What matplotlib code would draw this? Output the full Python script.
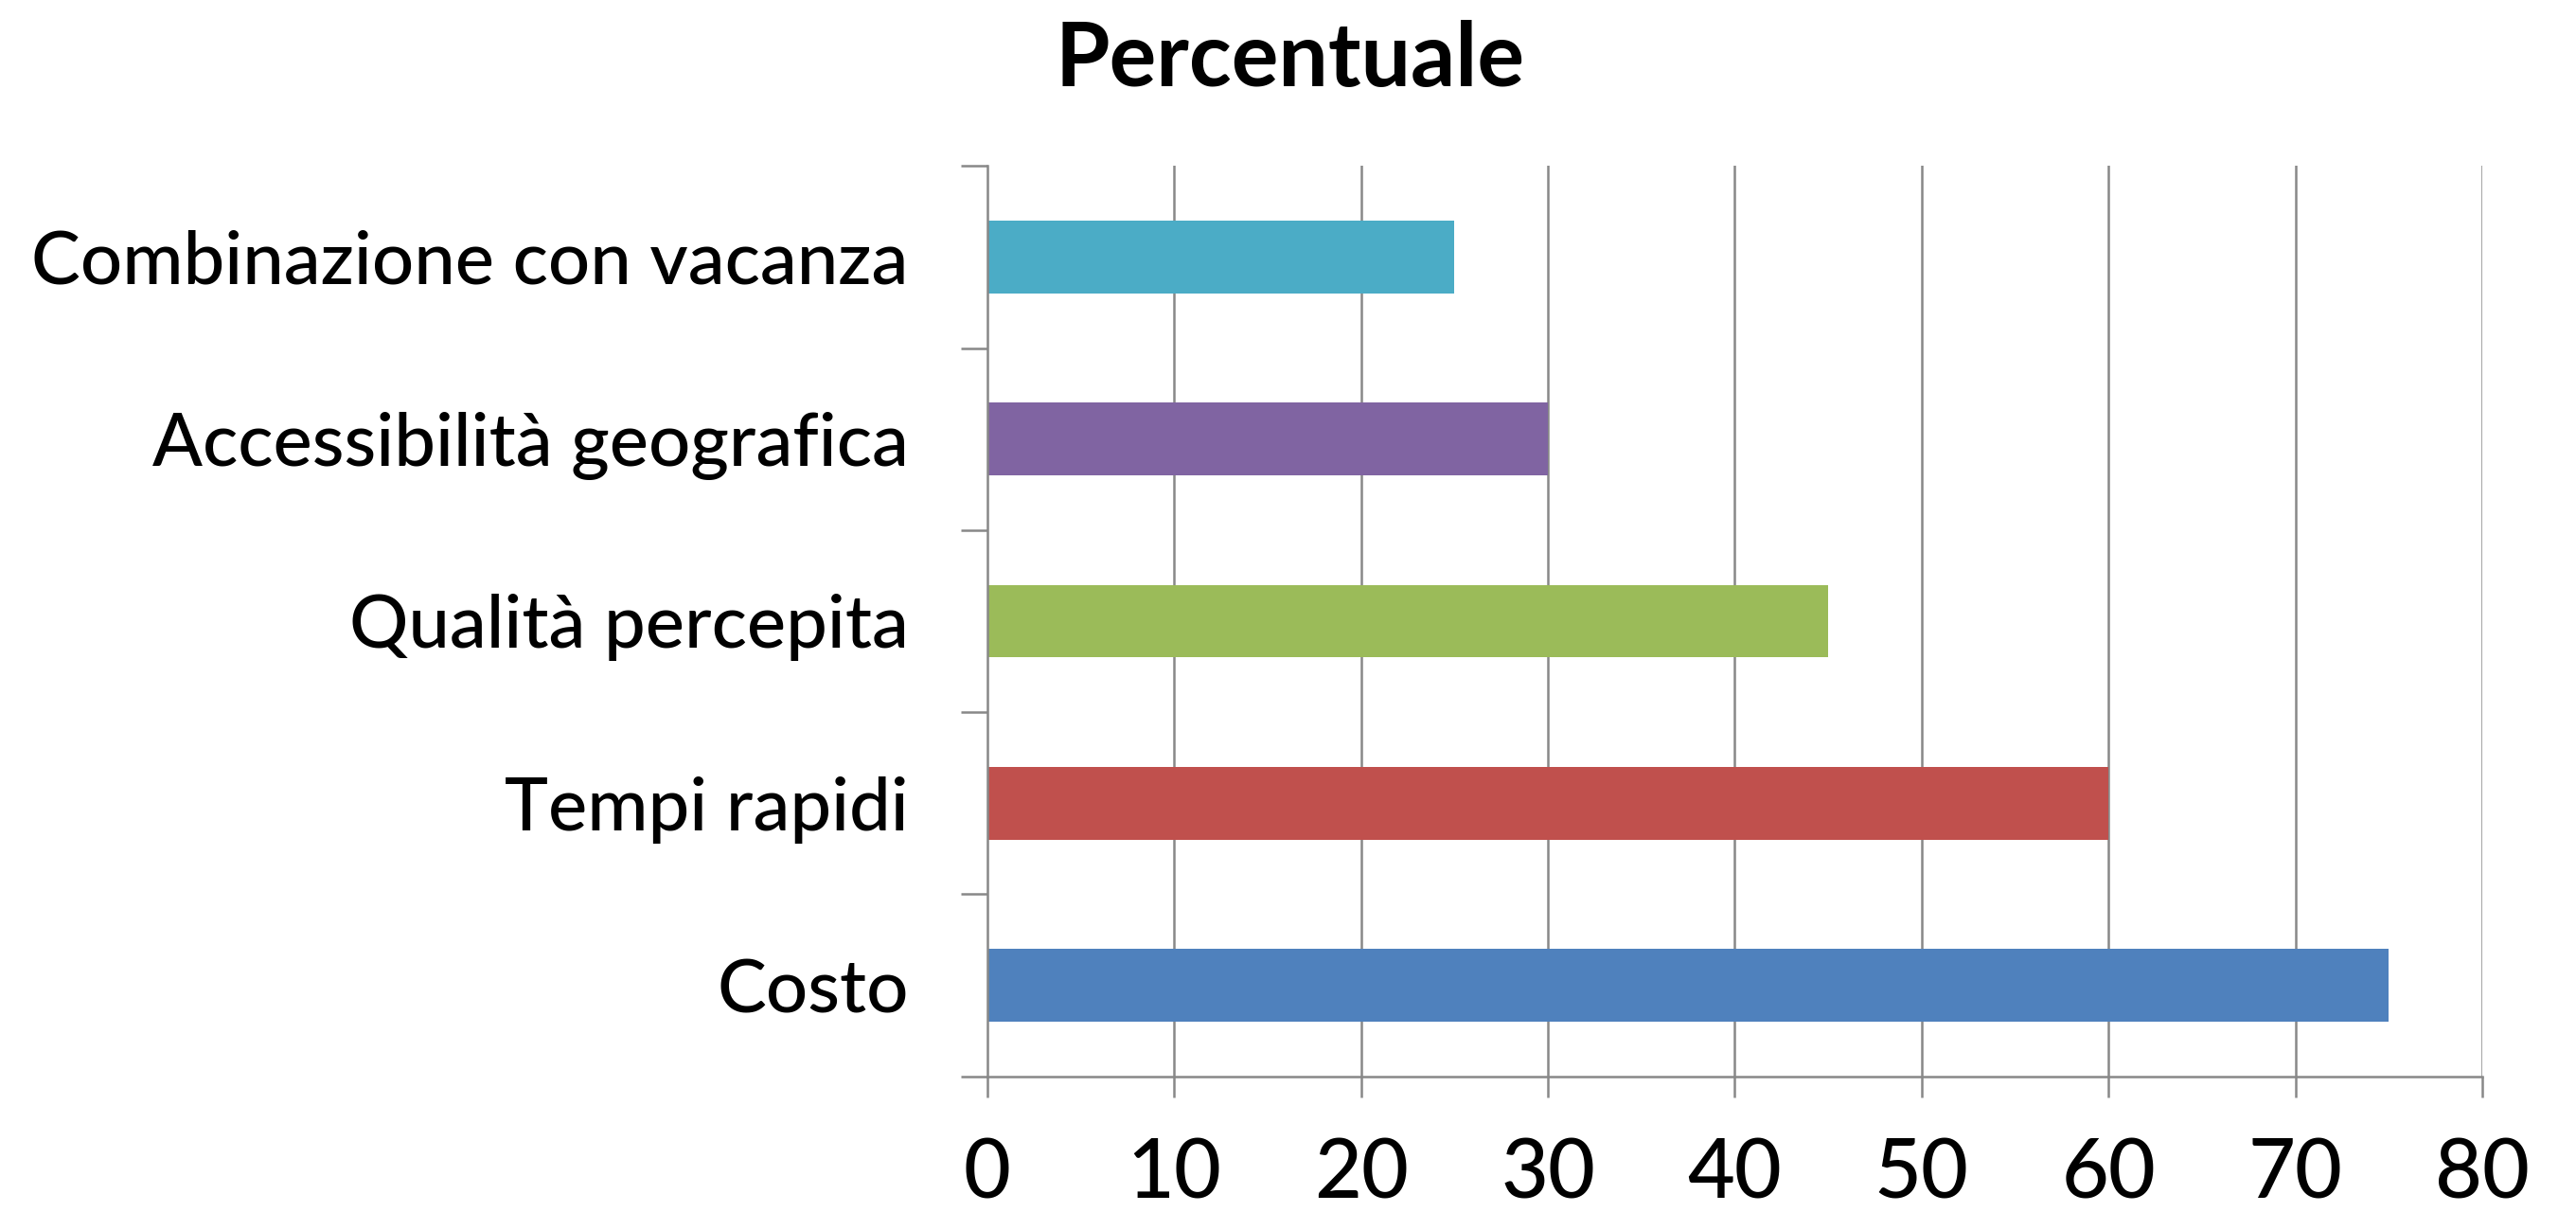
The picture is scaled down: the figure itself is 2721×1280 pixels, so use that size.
import matplotlib
matplotlib.use("Agg")
import matplotlib.pyplot as plt
from matplotlib.ticker import FixedLocator, NullFormatter

categories = ["Costo", "Tempi rapidi", "Qualità percepita",
              "Accessibilità geografica", "Combinazione con vacanza"]
values = [75, 60, 45, 30, 25]
colors = ["#4F81BD", "#C0504D", "#9BBB59", "#8064A2", "#4BACC6"]
xticks = [0, 10, 20, 30, 40, 50, 60, 70, 80]
title = "Percentuale"

plt.rcParams['font.family'] = ['Lato', 'DejaVu Sans']

fig = plt.figure(figsize=(27.21, 12.80), dpi=100)
ax = fig.add_axes([0.3833, 0.112, 0.9636 - 0.3833, 0.863 - 0.112])

ypos = list(range(len(categories)))
ax.barh(ypos, values, height=0.4, color=colors, edgecolor='none', zorder=3)

ax.set_xlim(0, 80)
ax.set_ylim(-0.5, len(categories) - 0.5)

grid_col = "#888888"
for x in xticks[1:]:
    ax.axvline(x, color=grid_col, linewidth=1.8, zorder=1)

for s in ['top', 'right']:
    ax.spines[s].set_visible(False)
for s in ['left', 'bottom']:
    ax.spines[s].set_color(grid_col)
    ax.spines[s].set_linewidth(1.8)
    ax.spines[s].set_zorder(4)

ax.set_xticks(xticks)
ax.set_xticklabels([str(v) for v in xticks], fontsize=62, fontweight='medium')
ax.tick_params(axis='x', length=16, width=1.8, color=grid_col, pad=31)

ax.yaxis.set_major_locator(FixedLocator([y - 0.5 for y in range(len(categories) + 1)]))
ax.yaxis.set_major_formatter(NullFormatter())
ax.yaxis.set_minor_locator(FixedLocator(ypos))
ax.set_yticklabels(categories, minor=True, fontsize=56, fontweight='medium')
ax.tick_params(axis='y', which='major', length=20, width=1.8, color=grid_col)
ax.tick_params(axis='y', which='minor', length=0, pad=60)

fig.text(0.5006, 0.95, title, ha='center', va='center', fontsize=67, fontweight='bold')

fig.savefig("out.png", dpi=100, facecolor='white')
